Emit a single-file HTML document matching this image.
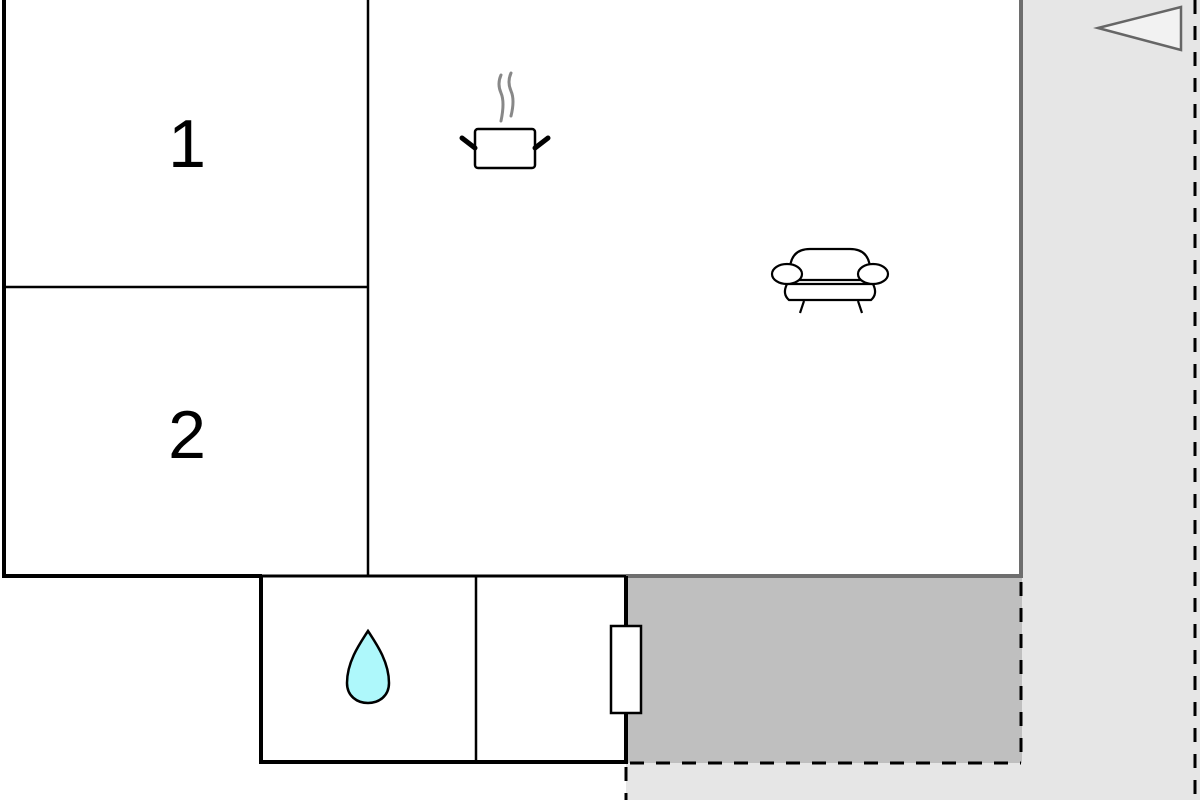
<!DOCTYPE html>
<html><head><style>html,body{margin:0;padding:0;background:#fff}svg{display:block}</style></head>
<body>
<svg width="1200" height="800" viewBox="0 0 1200 800" xmlns="http://www.w3.org/2000/svg">
<rect width="1200" height="800" fill="#fff"/>
<!-- light gray outdoor -->
<rect x="1022" y="0" width="178" height="800" fill="#e6e6e6"/>
<rect x="626" y="763" width="574" height="37" fill="#e6e6e6"/>
<!-- dark gray terrace -->
<rect x="626" y="577" width="396" height="186" fill="#bfbfbf"/>
<!-- dashed lines -->
<g stroke="#000" stroke-width="3" stroke-dasharray="14,12" fill="none">
<line x1="1021" y1="582" x2="1021" y2="763"/>
<line x1="630" y1="763" x2="1021" y2="763"/>
<line x1="626" y1="767" x2="626" y2="800"/>
<line x1="1195" y1="0" x2="1195" y2="800"/>
</g>
<!-- gray walls -->
<line x1="1021" y1="0" x2="1021" y2="578" stroke="#6e6e6e" stroke-width="4"/>
<line x1="626" y1="576" x2="1023" y2="576" stroke="#6e6e6e" stroke-width="4"/>
<!-- main black walls -->
<g stroke="#000" fill="none">
<polyline points="4,0 4,576 262,576" stroke-width="4"/>
<line x1="260" y1="576" x2="626" y2="576" stroke-width="3"/>
<line x1="368" y1="0" x2="368" y2="576" stroke-width="2.5"/>
<line x1="4" y1="287" x2="368" y2="287" stroke-width="2.5"/>
<polyline points="261,576 261,762 626,762 626,576" stroke-width="4"/>
<line x1="476" y1="576" x2="476" y2="762" stroke-width="2.5"/>
</g>
<!-- door -->
<rect x="611" y="626" width="30" height="87" fill="#fff" stroke="#000" stroke-width="2.5"/>
<!-- labels -->
<text x="187" y="167" font-family="Liberation Sans, sans-serif" font-size="68" text-anchor="middle">1</text>
<text x="187" y="458" font-family="Liberation Sans, sans-serif" font-size="68" text-anchor="middle">2</text>
<!-- pot -->
<g fill="none" stroke="#888" stroke-width="3" stroke-linecap="round">
<path d="M501,75 Q497,84 501,93 Q505,102 501,121"/>
<path d="M511,73 Q507,82 511,91 Q515,100 511,116"/>
</g>
<rect x="475" y="129" width="60" height="39" rx="3" fill="#fff" stroke="#000" stroke-width="2.5"/>
<line x1="462" y1="138" x2="475" y2="148" stroke="#000" stroke-width="5" stroke-linecap="round"/>
<line x1="548" y1="138" x2="535" y2="148" stroke="#000" stroke-width="5" stroke-linecap="round"/>
<!-- sofa -->
<g fill="#fff" stroke="#000" stroke-width="2.2">
<path d="M789,300 L871,300 Q878,294 873,284 L787,284 Q782,294 789,300 Z"/>
<path d="M790,267 Q792,249 810,249 L850,249 Q868,249 870,267 L870,280 L790,280 Z"/>
<ellipse cx="787" cy="274" rx="15" ry="10"/>
<ellipse cx="873" cy="274" rx="15" ry="10"/>
<line x1="804" y1="301" x2="800" y2="313"/>
<line x1="858" y1="301" x2="862" y2="313"/>
</g>
<!-- drop -->
<path d="M368,631 C378,646 389,663 389,683 C389,696 379,703 368,703 C357,703 347,696 347,683 C347,663 358,646 368,631 Z" fill="#aef8fb" stroke="#000" stroke-width="2.5"/>
<!-- north arrow -->
<polygon points="1098,28 1181,7 1181,50" fill="#f2f2f2" stroke="#666" stroke-width="2.5"/>
</svg>
</body></html>
